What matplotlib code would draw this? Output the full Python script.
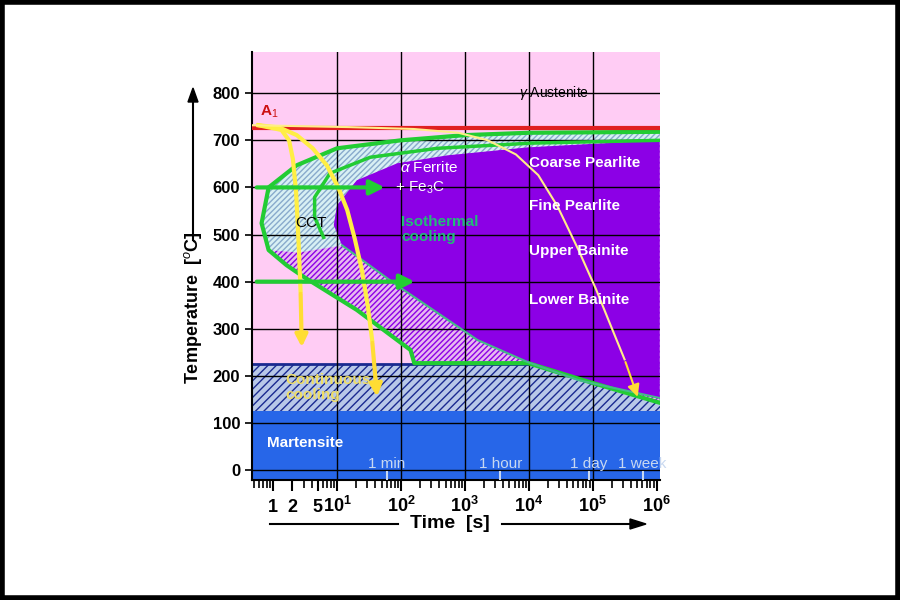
import numpy as np
import matplotlib.pyplot as plt
from matplotlib.patches import Polygon, Rectangle

plt.rcParams["font.family"] = ["Liberation Sans", "DejaVu Sans"]
plt.rcParams["mathtext.fontset"] = "custom"
plt.rcParams["mathtext.rm"] = "Liberation Sans"
plt.rcParams["mathtext.it"] = "Liberation Sans:italic"
plt.rcParams["mathtext.bf"] = "Liberation Sans:bold"

# ---- data (log10 time [s], temperature [C]) ----
outer_start = [(6.05, 718), (4.0, 716), (3.0, 711), (2.0, 700), (1.0, 683), (0.37, 647),
               (-0.07, 600), (-0.18, 524), (-0.07, 467), (0.21, 435), (0.48, 410),
               (1.31, 340), (2.15, 255), (2.21, 227), (3.99, 227), (5.0, 185), (6.05, 143)]
inner_finish = [(6.05, 700), (3.99, 685), (2.73, 668), (1.94, 651), (1.31, 615), (1.0, 562),
                (0.95, 520), (1.08, 477), (1.94, 392), (3.2, 276), (3.99, 229),
                (4.78, 191), (6.05, 153)]
cct_band = [(6.05, 718), (4.0, 716), (3.0, 711), (2.0, 700), (1.0, 683), (0.37, 647),
            (-0.07, 600), (-0.18, 524), (-0.07, 467), (0.4, 462), (1.08, 477),
            (0.95, 520), (1.0, 562), (1.31, 615), (1.94, 651), (2.73, 668), (3.99, 685), (6.05, 700)]
mid_green = [(6.05, 700), (4.04, 694), (2.57, 683), (1.52, 664), (0.89, 630),
             (0.65, 579), (0.65, 537), (0.79, 494)]
cool1 = [(-0.23, 732), (0.13, 722), (0.25, 700), (0.31, 660), (0.36, 590), (0.40, 480),
         (0.43, 380), (0.45, 255)]
cool2 = [(-0.23, 732), (0.1, 727), (0.37, 711), (0.62, 683), (0.84, 647), (1.02, 600),
         (1.16, 552), (1.28, 490), (1.39, 424), (1.48, 350), (1.55, 276), (1.63, 150)]
cool3 = [(-0.34, 732), (1.2, 728), (2.2, 724), (2.9, 716), (3.36, 700), (3.8, 670),
         (4.15, 626), (4.45, 560), (4.78, 467), (5.05, 385), (5.25, 318), (5.5, 235), (5.72, 150)]
a1_temp = 727
ms_temp = 225
mf_temp = 125
iso_temps = [600, 400]
iso_ends = [1.79, 2.26]
region_labels = ["Coarse Pearlite", "Fine Pearlite", "Upper Bainite", "Lower Bainite"]
region_temps = [652, 560, 465, 362]
time_marks = ["1 min", "1 hour", "1 day", "1 week"]
time_secs = [60, 3600, 86400, 604800]
xtick_vals = [1, 2, 5, 10, 100, 1e3, 1e4, 1e5, 1e6]
xtick_labels = ["1", "2", "5", "10$^1$", "10$^2$", "10$^3$", "10$^4$", "10$^5$", "10$^6$"]


def to_xy(pts):
    return [(10 ** lt, T) for lt, T in pts]


pink = "#FFCCF4"
purple = "#8C00E6"
green = "#22CC33"

fig = plt.figure(figsize=(9, 6), dpi=100)
fig.patches.append(Rectangle((0.002, 0.003), 0.996, 0.994, transform=fig.transFigure,
                             fill=False, ec="black", lw=4))
ax = fig.add_axes([0.28, 0.2, 0.453, 0.713])
ax.set_xscale("log")
ax.set_xlim(10 ** -0.33, 10 ** 6.05)
ax.set_ylim(-21, 887)
ax.set_facecolor(pink)

# martensite regions
ax.axhspan(-21, mf_temp, color="#2766E8", zorder=1)
ax.axhspan(mf_temp, ms_temp, facecolor="#B8C8E8", edgecolor="#1A2A90", hatch="////", lw=0, zorder=1)
ax.axhline(ms_temp, color="#1A2A90", lw=2, zorder=2)

# transformation regions
ax.add_patch(Polygon(to_xy(outer_start), closed=True, facecolor="#E8B8F0", edgecolor=purple,
                     hatch="//////", lw=0, zorder=2))
ax.add_patch(Polygon(to_xy(cct_band), closed=True, facecolor="#D8F0F4", edgecolor="#88AACC",
                     hatch="//////", lw=0, zorder=3))
ax.add_patch(Polygon(to_xy(inner_finish), closed=True, facecolor=purple, edgecolor="none", zorder=4))
ox, oy = zip(*to_xy(outer_start))
ax.plot(ox, oy, color=green, lw=3, zorder=5)
mx, my = zip(*to_xy(mid_green))
ax.plot(mx, my, color=green, lw=2.5, zorder=5)
fx, fy = zip(*to_xy(inner_finish[7:]))
ax.plot(fx, fy, color="#44BB88", lw=1.5, zorder=5)

# A1 line
ax.axhline(a1_temp, color="#E02020", lw=3, zorder=6)

# grid
for T in range(0, 900, 100):
    ax.axhline(T, color="black", lw=1, zorder=4.5)
for d in range(1, 6):
    ax.axvline(10 ** d, color="black", lw=1, zorder=4.5)

# cooling curves
for pts, col, lw in [(cool1, "#FFEE44", 3), (cool2, "#FFEE44", 3), (cool3, "#FFEE88", 1.5)]:
    xs, ys = zip(*to_xy(pts))
    ax.plot(xs[:-1], ys[:-1], color=col, lw=lw, zorder=7)
    ax.annotate("", xy=(xs[-1], ys[-1]), xytext=(xs[-2], ys[-2]),
                arrowprops=dict(arrowstyle="-|>", color="#FFDD33", lw=lw, mutation_scale=18), zorder=7)

# isothermal arrows
for T, end in zip(iso_temps, iso_ends):
    ax.annotate("", xy=(10 ** end, T), xytext=(10 ** -0.3, T),
                arrowprops=dict(arrowstyle="-|>", color=green, lw=3, mutation_scale=22), zorder=8)

# labels
ax.text(10 ** 4.4, 800, r"$\gamma$ Austenite", ha="center", va="center", fontsize=10, zorder=9)
ax.text(10 ** -0.2, 752, r"A$_1$", color="#CC1111", fontsize=11, fontweight="bold", zorder=9)
ax.text(10 ** 2.45, 633, r"$\alpha$ Ferrite", color="white", fontsize=11, ha="center", zorder=9)
ax.text(10 ** 2.3, 592, r"+ Fe$_3$C", color="white", fontsize=11, ha="center", zorder=9)
ax.text(10 ** 2.0, 510, "Isothermal\ncooling", color="#22BB77", fontsize=11, fontweight="bold",
        linespacing=1.1, va="center", zorder=9)
ax.text(10 ** 0.6, 525, "CCT", fontsize=11, ha="center", va="center", zorder=9)
for lab, T in zip(region_labels, region_temps):
    ax.text(10 ** 4.0, T, lab, color="white", fontsize=11, fontweight="bold", va="center", zorder=9)
ax.text(10 ** 0.2, 175, "Continuous\ncooling", color="#EEDD66", fontsize=11, fontweight="bold",
        linespacing=1.1, va="center", zorder=9)
ax.text(10 ** -0.1, 58, "Martensite", color="white", fontsize=11, fontweight="bold", va="center", zorder=9)
for lab, s in zip(time_marks, time_secs):
    ax.text(s, 13, lab, color="#C8D8F0", fontsize=11, ha="center", va="center", zorder=9)
    ax.plot([s, s], [-21, -5], color="#C8D8F0", lw=1.5, zorder=9)

# axes styling
for side in ["top", "right"]:
    ax.spines[side].set_visible(False)
ax.spines["left"].set_linewidth(1.5)
ax.spines["bottom"].set_linewidth(1.5)
ax.set_yticks(range(0, 900, 100))
ax.tick_params(axis="y", labelsize=12, length=5, width=1.2)
for t in ax.get_yticklabels():
    t.set_fontweight("bold")
ax.set_xticks(xtick_vals)
ax.set_xticklabels([])
ax.tick_params(axis="x", which="major", length=8, width=1.5)
ax.tick_params(axis="x", which="minor", length=6, width=1.2)
for v, lab in zip(xtick_vals, xtick_labels):
    ax.text(v, -0.075, "$\\mathbf{" + lab.replace("$", "") + "}$" if "$" in lab else lab,
            transform=ax.get_xaxis_transform(), ha="center", va="baseline",
            fontsize=13, fontweight="bold")

# axis titles with arrows
fig.text(193 / 900, 1 - 308 / 600, "Temperature  [$^o$C]", rotation=90, ha="center", va="center",
         fontsize=13, fontweight="bold")
fig.add_artist(plt.Line2D([193 / 900, 193 / 900], [1 - 240 / 600, 1 - 100 / 600], color="black", lw=1.5))
fig.patches.append(Polygon([(188 / 900, 1 - 102 / 600), (198 / 900, 1 - 102 / 600), (193 / 900, 1 - 88 / 600)],
                           closed=True, transform=fig.transFigure, color="black"))
fig.text(450 / 900, 1 - 523 / 600, "Time  [s]", ha="center", va="center", fontsize=14, fontweight="bold")
fig.add_artist(plt.Line2D([270 / 900, 398 / 900], [1 - 524 / 600] * 2, color="black", lw=1.5))
fig.add_artist(plt.Line2D([502 / 900, 632 / 900], [1 - 524 / 600] * 2, color="black", lw=1.5))
fig.patches.append(Polygon([(630 / 900, 1 - 519 / 600), (630 / 900, 1 - 529 / 600), (646 / 900, 1 - 524 / 600)],
                           closed=True, transform=fig.transFigure, color="black"))

fig.savefig("out.png", dpi=100)
